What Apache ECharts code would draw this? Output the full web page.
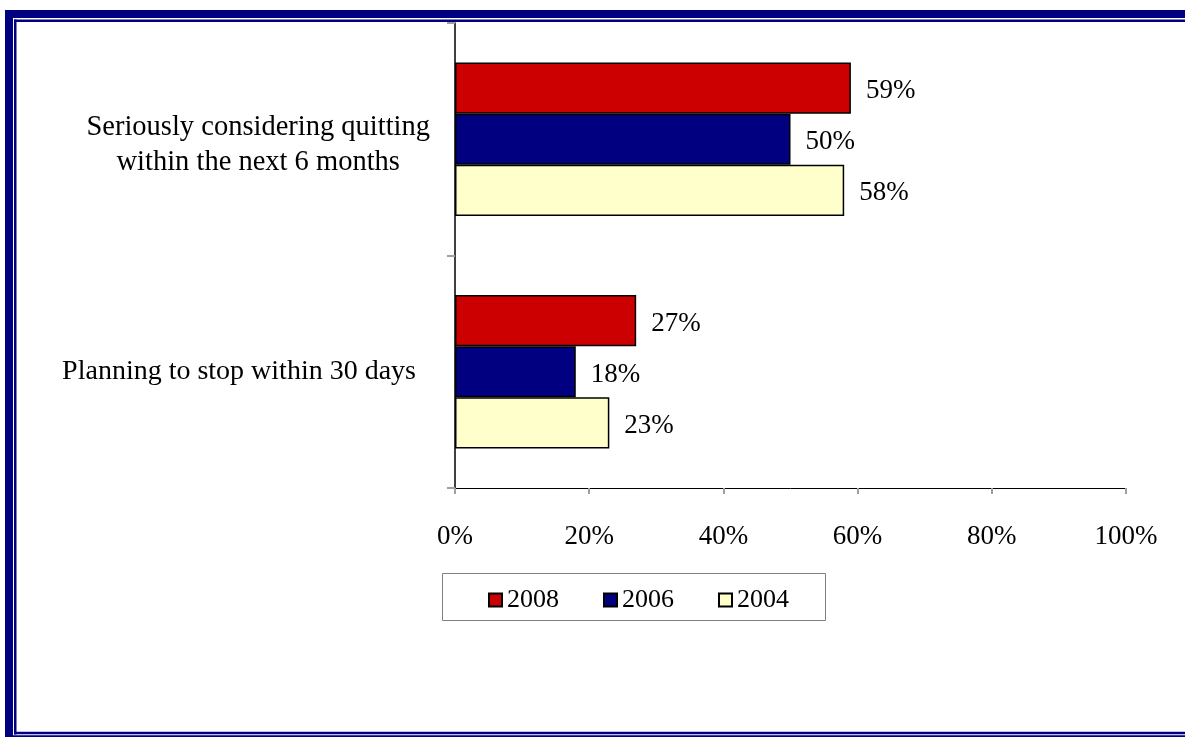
<!DOCTYPE html>
<html>
<head>
<meta charset="utf-8">
<script src="https://cdn.jsdelivr.net/npm/echarts@6/dist/echarts.min.js"></script>
<style>
html,body{margin:0;padding:0;background:#fff;}
#chart{width:1185px;height:737px;}
</style>
</head>
<body>
<div id="chart"></div>
<script>
const categories = ['Seriously considering quitting\nwithin the next 6 months', 'Planning to stop within 30 days'];
const years = ['2008', '2006', '2004'];
const values2008 = [59, 27];
const values2006 = [50, 18];
const values2004 = [58, 23];
const xTicks = [0, 20, 40, 60, 80, 100];
const colors = ['#CC0000', '#000080', '#FFFFCC'];

const seriesValues = [values2008, values2006, values2004];
const FONT = '"Liberation Serif", "Times New Roman", serif';

const chart = echarts.init(document.getElementById('chart'));
const navy = '#000080';

chart.setOption({
  animation: false,
  backgroundColor: '#ffffff',
  grid: { left: 455, right: 59, top: 23, bottom: 249, containLabel: false },
  xAxis: {
    type: 'value',
    min: xTicks[0], max: xTicks[xTicks.length - 1], interval: xTicks[1] - xTicks[0],
    axisLine: { show: true, lineStyle: { color: '#000', width: 1 } },
    axisTick: { show: true, length: 6, lineStyle: { color: '#a0a0a0', width: 2 } },
    splitLine: { show: false },
    axisLabel: { formatter: '{value}%', fontFamily: FONT, fontSize: 27, color: '#000', margin: 35 }
  },
  yAxis: {
    type: 'category',
    inverse: true,
    data: categories,
    axisLine: { show: true, lineStyle: { color: '#000', width: 1.5 } },
    axisTick: { show: true, length: 8, lineStyle: { color: '#a0a0a0', width: 2 } },
    axisLabel: {
      margin: 25,
      color: '#000',
      formatter: function (v, i) {
        if (i === 0) return v.split('\n').map(s => '{c|' + s + '}').join('\n');
        return '{p|' + v + '}';
      },
      rich: {
        c: { align: 'center', fontFamily: FONT, fontSize: 28.5, lineHeight: 35, color: '#000', padding: [12, 0, 0, 0] },
        p: { fontFamily: FONT, fontSize: 28, lineHeight: 35, color: '#000', padding: [0, 14, 0, 0] }
      }
    }
  },
  legend: {
    data: years,
    left: 483, top: 582,
    itemWidth: 13, itemHeight: 13, itemGap: 44,
    icon: 'rect',
    textStyle: { fontFamily: FONT, fontSize: 26, color: '#000', padding: [0, 0, 0, 0] }
  },
  graphic: [
    { type: 'rect', shape: { x: 442.5, y: 573.5, width: 383, height: 47 }, style: { fill: 'none', stroke: '#808080', lineWidth: 1 }, silent: true },
    { type: 'rect', shape: { x: 5, y: 10, width: 1180, height: 8 }, style: { fill: navy }, silent: true },
    { type: 'rect', shape: { x: 5, y: 10, width: 8, height: 727 }, style: { fill: navy }, silent: true },
    { type: 'rect', shape: { x: 14, y: 19.5, width: 1171, height: 2.5 }, style: { fill: navy }, silent: true },
    { type: 'rect', shape: { x: 14, y: 19.5, width: 2.5, height: 715 }, style: { fill: navy }, silent: true },
    { type: 'rect', shape: { x: 14, y: 731.8, width: 1171, height: 2.5 }, style: { fill: navy }, silent: true },
    { type: 'rect', shape: { x: 5, y: 735.3, width: 1180, height: 1.7 }, style: { fill: navy }, silent: true }
  ],
  series: years.map((y, i) => ({
    name: y,
    type: 'bar',
    data: seriesValues[i],
    barGap: '0%',
    barCategoryGap: '34%',
    itemStyle: { color: colors[i], borderColor: '#000', borderWidth: 1.5 },
    label: {
      show: true, position: 'right', distance: 15, offset: [0, 3],
      formatter: '{c}%', fontFamily: FONT, fontSize: 27, color: '#000'
    }
  }))
});
</script>
</body>
</html>
